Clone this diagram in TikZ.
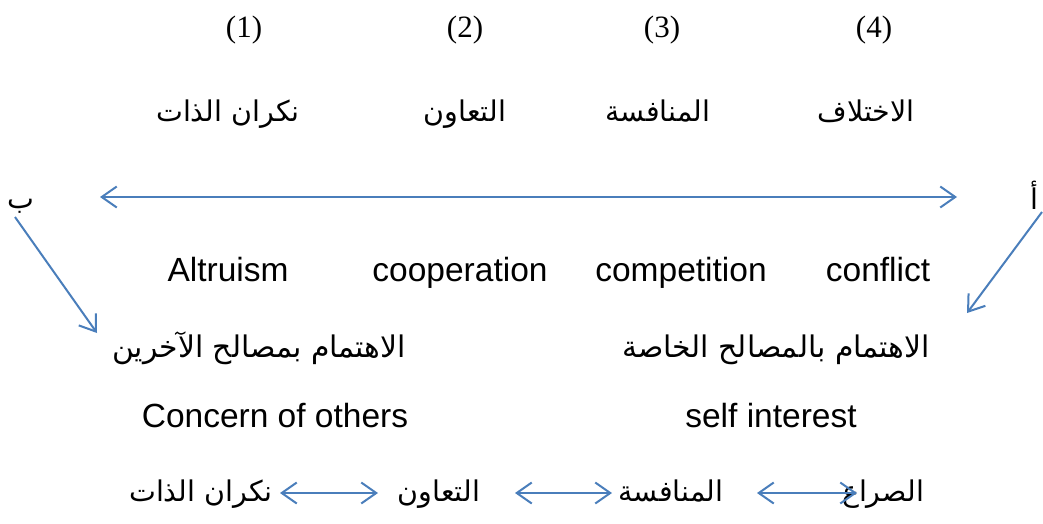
\documentclass[tikz,border=0pt]{standalone}
\usepackage{fontspec}
\setmainfont{Liberation Serif}
\newfontfamily\latinsans{Liberation Sans}
\newfontfamily\arabicfont[Script=Arabic]{DejaVu Sans}
\usetikzlibrary{arrows.meta}
\TeXXeTstate=1
\definecolor{arrowblue}{RGB}{74,126,187}
\tikzset{
  num/.style={font=\fontsize{31}{36}\selectfont, inner sep=0pt, anchor=base},
  ar/.style={font=\arabicfont\fontsize{28.5}{34}\selectfont, inner sep=0pt, anchor=base},
  arbig/.style={font=\arabicfont\fontsize{29.8}{35}\selectfont, inner sep=0pt, anchor=base},
  en/.style={font=\latinsans\fontsize{33.5}{38}\selectfont, inner sep=0pt, anchor=base},
  conn/.style={draw=arrowblue, line width=2pt},
  >={Straight Barb[length=15pt,width=21pt,line width=2pt]},
}
\newcommand{\AR}[1]{\beginR #1\endR}
\begin{document}
\begin{tikzpicture}[x=1pt,y=-1pt]
\useasboundingbox (0,0) rectangle (1043,523);
% row 1
\node[num] (n1) at (244,37) {(1)};
\node[num] (n2) at (465,37) {(2)};
\node[num] (n3) at (662,37) {(3)};
\node[num] (n4) at (874,37) {(4)};
% row 2
\node[ar] (a1) at (228,121) {\AR{نكران الذات}};
\node[ar] (a2) at (465,121) {\AR{التعاون}};
\node[ar] (a3) at (658,121) {\AR{المنافسة}};
\node[ar] (a4) at (866,121) {\AR{الاختلاف}};
% main arrow
\coordinate (mL) at (100,197);
\coordinate (mR) at (957,197);
\draw[conn, <->] (mL) -- (mR);
% side letters
\node[ar] (ba) at (21,208) {\AR{ب}};
\node[ar] (alif) at (1034,209) {\AR{أ}};
\coordinate (bS) at (15,217);
\coordinate (bE) at (97,333);
\coordinate (aS) at (1042,212);
\coordinate (aE) at (967,313);
\draw[conn, ->] (bS) -- (bE);
\draw[conn, ->] (aS) -- (aE);
% row 3
\node[en] (e1) at (228,281) {Altruism};
\node[en] (e2) at (460,281) {cooperation};
\node[en] (e3) at (681,281) {competition};
\node[en] (e4) at (878,281) {conflict};
% row 4
\node[arbig] (c1) at (259,357) {\AR{الاهتمام بمصالح الآخرين}};
\node[arbig] (c2) at (776,357) {\AR{الاهتمام بالمصالح الخاصة}};
% row 5
\node[en] (s1) at (275,427) {Concern of others};
\node[en] (s2) at (771,427) {self interest};
% row 6
\node[ar] (b1) at (201,501) {\AR{نكران الذات}};
\node[ar] (b2) at (439,501) {\AR{التعاون}};
\node[ar] (b3) at (671,501) {\AR{المنافسة}};
\node[ar] (b4) at (883,501) {\AR{الصراع}};
\coordinate (p1) at (280,493); \coordinate (q1) at (378,493);
\coordinate (p2) at (515,493); \coordinate (q2) at (612,493);
\coordinate (p3) at (757,493); \coordinate (q3) at (857,493);
\draw[conn, <->] (p1) -- (q1);
\draw[conn, <->] (p2) -- (q2);
\draw[conn, <->] (p3) -- (q3);
\end{tikzpicture}
\end{document}
